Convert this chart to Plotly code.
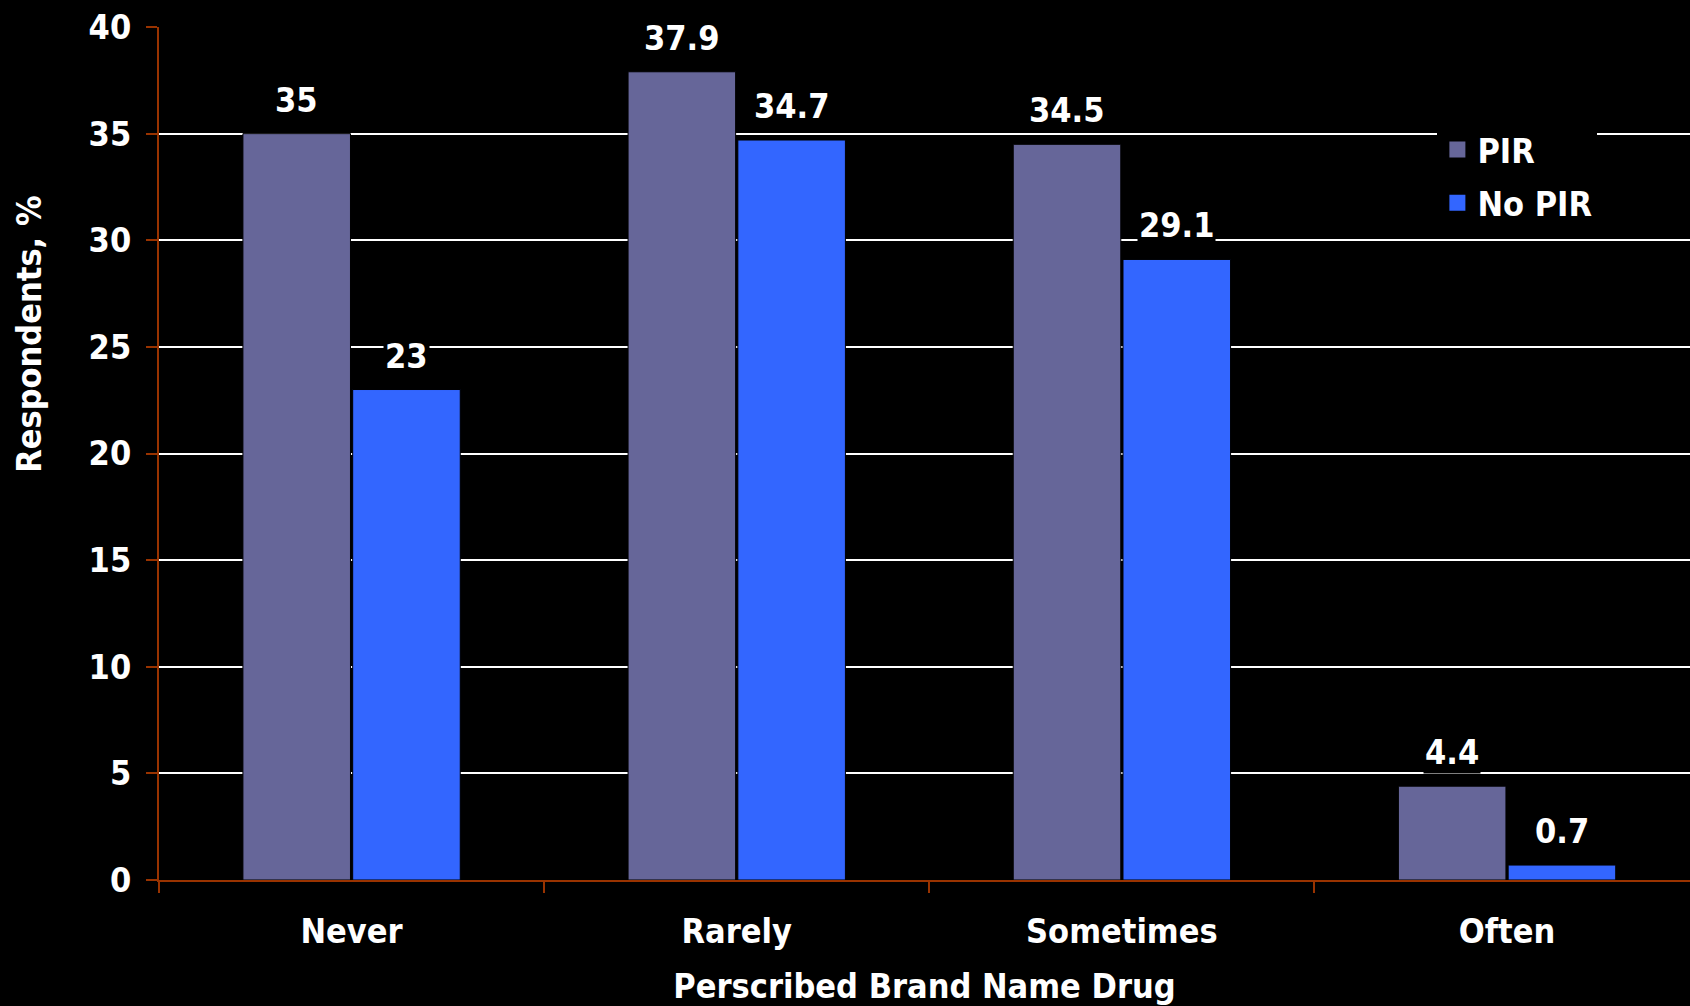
import plotly.graph_objects as go

categories = ["Never", "Rarely", "Sometimes", "Often"]
pir = [35, 37.9, 34.5, 4.4]
no_pir = [23, 34.7, 29.1, 0.7]
pir_labels = ["35", "37.9", "34.5", "4.4"]
no_pir_labels = ["23", "34.7", "29.1", "0.7"]
y_ticks = [0, 5, 10, 15, 20, 25, 30, 35, 40]

FONT = "DejaVu Sans Condensed, DejaVu Sans, sans-serif"
FS = 34
PIR_C = "#666699"
NOPIR_C = "#3366FF"
AXIS_C = "#993300"

fig = go.Figure()
fig.add_trace(go.Bar(x=categories, y=pir, name="PIR", marker=dict(color=PIR_C, line=dict(color="black", width=1)), showlegend=False))
fig.add_trace(go.Bar(x=categories, y=no_pir, name="No PIR", marker=dict(color=NOPIR_C, line=dict(color="black", width=1)), showlegend=False))
# legend proxies
fig.add_trace(go.Scatter(x=[None], y=[None], mode="markers", name="PIR", legendgroup="a",
                         marker=dict(symbol="square", size=17, color=PIR_C)))
fig.add_trace(go.Scatter(x=[None], y=[None], mode="markers", name="No PIR", legendgroup="b",
                         marker=dict(symbol="square", size=17, color=NOPIR_C)))

lab_font = dict(family=FONT, size=FS, color="white", weight="bold")
for c, v, t in zip(categories, pir, pir_labels):
    fig.add_annotation(x=c, y=v, text=t, showarrow=False, xshift=-55, yanchor="bottom", yshift=12,
                       bgcolor="black", font=lab_font)
for c, v, t in zip(categories, no_pir, no_pir_labels):
    fig.add_annotation(x=c, y=v, text=t, showarrow=False, xshift=55, yanchor="bottom", yshift=12,
                       bgcolor="black", font=lab_font)

fig.add_annotation(xref="paper", x=-0.085, xanchor="center", yref="paper", y=(880 - 334) / 853,
                   yanchor="middle", text="Respondents, %", showarrow=False, textangle=-90, font=lab_font)

fig.update_layout(
    width=1690, height=1006,
    margin=dict(l=159, r=0, t=27, b=126),
    paper_bgcolor="black", plot_bgcolor="black",
    barmode="group", bargap=0.43, bargroupgap=0.02,
    font=dict(family=FONT, size=FS, color="white", weight="bold"),
    showlegend=True,
    legend=dict(x=0.835, y=0.89, xanchor="left", yanchor="top", bgcolor="black",
                font=dict(family=FONT, size=FS, color="white", weight="bold"),
                tracegroupgap=6, itemwidth=30),
    xaxis=dict(range=[-0.5, 3.475], showgrid=False, showline=True, linecolor=AXIS_C, linewidth=2,
               ticks="outside", tickson="boundaries", ticklen=11, tickwidth=2, tickcolor=AXIS_C,
               ticklabelstandoff=20,
               title=dict(text="Perscribed Brand Name Drug", standoff=24, font=dict(size=FS)),
               tickfont=dict(size=FS)),
    yaxis=dict(range=[0, 40], tickvals=y_ticks, showgrid=True, gridcolor="white", gridwidth=2,
               showline=True, linecolor=AXIS_C, linewidth=2, ticks="outside", ticklen=11, tickwidth=2,
               tickcolor=AXIS_C, zeroline=False, tickfont=dict(size=FS), ticklabelstandoff=8),
)

fig.write_html("out.html")
